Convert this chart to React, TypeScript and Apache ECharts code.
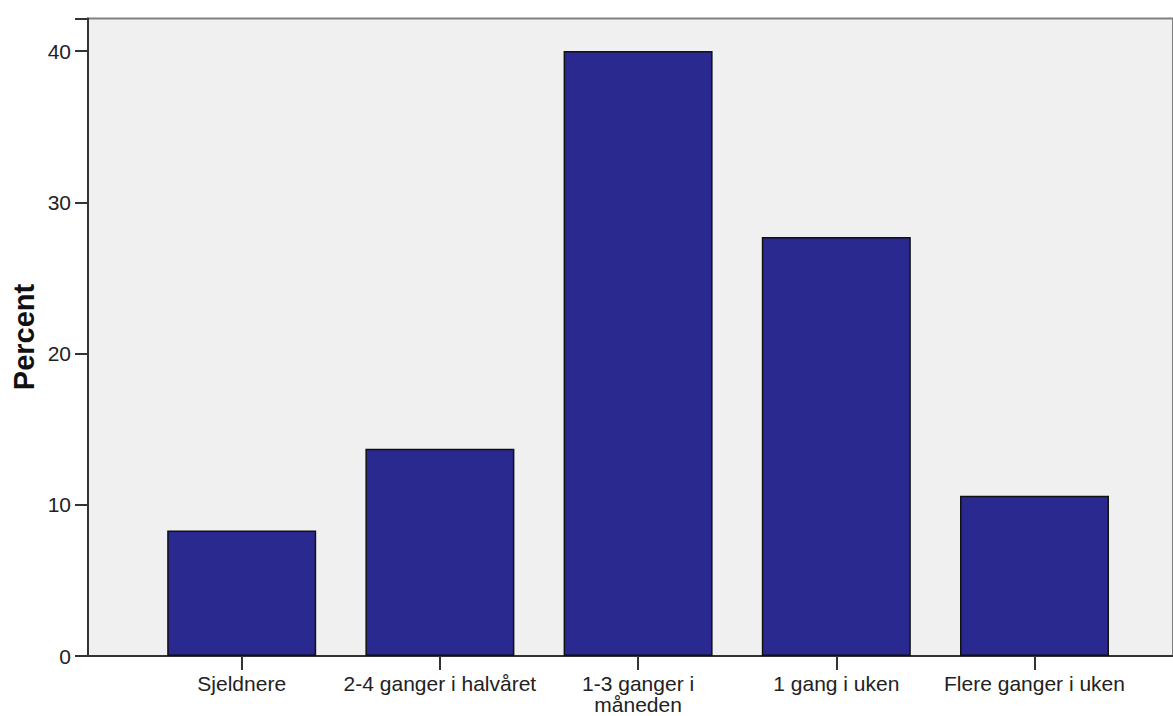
import React, { useEffect, useRef } from "react";
import * as echarts from "echarts";

const categories = [
  "Sjeldnere",
  "2-4 ganger i halvåret",
  "1-3 ganger i\nmåneden",
  "1 gang i uken",
  "Flere ganger i uken",
];
const percentValues = [8.3, 13.7, 40.0, 27.7, 10.6];
const yTicks = [0, 10, 20, 30, 40];
const yAxisTitle = "Percent";

export default function App() {
  const ref = useRef<HTMLDivElement>(null);
  useEffect(() => {
    document.body.style.margin = "0";
    const chart = echarts.init(ref.current!, undefined, { renderer: "svg" });
    const font = "'Liberation Sans', Arial, sans-serif";
    const yMax = 42.15;
    chart.setOption({
      animation: false,
      grid: [
        {
          left: 88,
          right: -3,
          top: 18.5,
          bottom: 60,
          show: true,
          backgroundColor: "#f0f0f0",
          borderColor: "#808080",
          borderWidth: 2,
        },
        { left: 142.6, width: 991, top: 18.5, bottom: 60 },
      ],
      xAxis: [
        {
          gridIndex: 0,
          type: "value",
          min: 0,
          max: 1,
          axisLine: { show: true, onZero: false, lineStyle: { color: "#333", width: 2 } },
          axisTick: { show: false },
          axisLabel: { show: false },
          splitLine: { show: false },
        },
        {
          gridIndex: 1,
          type: "category",
          data: categories,
          axisLine: { show: false },
          axisTick: {
            show: true,
            alignWithLabel: true,
            length: 14,
            lineStyle: { color: "#333", width: 2 },
          },
          axisLabel: {
            interval: 0,
            fontSize: 21,
            lineHeight: 21,
            margin: 17,
            color: "#222",
            fontFamily: font,
          },
        },
      ],
      yAxis: [
        {
          gridIndex: 0,
          type: "value",
          min: 0,
          max: yMax,
          interval: 10,
          axisLine: { show: true, lineStyle: { color: "#333", width: 2 } },
          axisTick: { show: true, length: 13, lineStyle: { color: "#333", width: 2 } },
          axisLabel: {
            fontSize: 21,
            margin: 17,
            color: "#222",
            fontFamily: font,
            formatter: (v: number) => (yTicks.includes(v) ? String(v) : ""),
          },
          splitLine: { show: false },
        },
        { gridIndex: 1, type: "value", min: 0, max: yMax, show: false },
      ],
      graphic: [
        {
          type: "text",
          x: 24,
          y: 337,
          rotation: Math.PI / 2,
          style: {
            text: yAxisTitle,
            fontSize: 29,
            fontWeight: "bold",
            fontFamily: font,
            fill: "#111",
            align: "center",
            verticalAlign: "middle",
          },
        },
      ],
      series: [
        {
          type: "bar",
          xAxisIndex: 1,
          yAxisIndex: 1,
          data: percentValues,
          barWidth: 149,
          itemStyle: { color: "#29298f", borderColor: "#111", borderWidth: 1.5 },
        },
      ],
    });
    return () => chart.dispose();
  }, []);
  return <div ref={ref} style={{ width: 1173, height: 716 }} />;
}
